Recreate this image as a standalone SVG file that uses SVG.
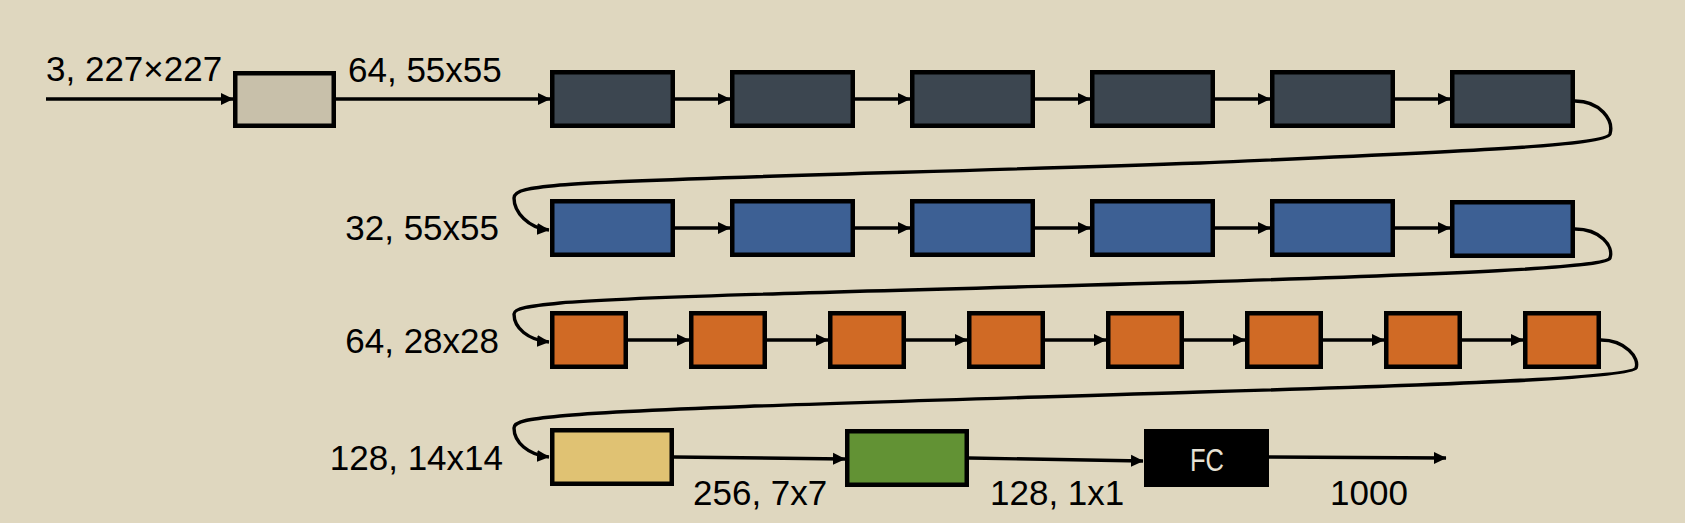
<svg xmlns="http://www.w3.org/2000/svg" width="1685" height="523" viewBox="0 0 1685 523">
<defs>
<marker id="ah" markerWidth="13" markerHeight="13" refX="12" refY="6.5" orient="auto" markerUnits="userSpaceOnUse">
<path d="M0,0.5 L12.5,6.5 L0,12.5 Z" fill="#000"/>
</marker>
<style>
.lbl{font-family:"Liberation Sans",Arial,sans-serif;font-size:35px;fill:#000}
.box{stroke:#000;stroke-width:4.5}
.dk{fill:#3C4650}.bl{fill:#3D6094}.or{fill:#D06A25}
.ln{fill:none;stroke:#000;stroke-width:3.4;marker-end:url(#ah)}
</style>
</defs>
<rect width="1685" height="523" fill="#DFD7BF"/>
<g id="labels">
<text class="lbl" x="46" y="81">3, 227×227</text>
<text class="lbl" x="348" y="82">64, 55x55</text>
<text class="lbl" x="499" y="240" text-anchor="end">32, 55x55</text>
<text class="lbl" x="499" y="353" text-anchor="end">64, 28x28</text>
<text class="lbl" x="503" y="470" text-anchor="end">128, 14x14</text>
<text class="lbl" x="693" y="505">256, 7x7</text>
<text class="lbl" x="990" y="505">128, 1x1</text>
<text class="lbl" x="1330" y="505">1000</text>
</g>
<g id="input"><rect class="box" x="235.25" y="73.25" width="98.5" height="52.5" fill="#C8C0AA"/></g>
<g id="row1">
<rect id="d1" class="box dk" x="552.25" y="72.25" width="120.5" height="53.5"/>
<rect id="d2" class="box dk" x="732.25" y="72.25" width="120.5" height="53.5"/>
<rect id="d3" class="box dk" x="912.25" y="72.25" width="120.5" height="53.5"/>
<rect id="d4" class="box dk" x="1092.25" y="72.25" width="120.5" height="53.5"/>
<rect id="d5" class="box dk" x="1272.25" y="72.25" width="120.5" height="53.5"/>
<rect id="d6" class="box dk" x="1452.25" y="72.25" width="120.5" height="53.5"/>
</g>
<g id="row2">
<rect id="b1" class="box bl" x="552.25" y="201.25" width="120.5" height="53.5"/>
<rect id="b2" class="box bl" x="732.25" y="201.25" width="120.5" height="53.5"/>
<rect id="b3" class="box bl" x="912.25" y="201.25" width="120.5" height="53.5"/>
<rect id="b4" class="box bl" x="1092.25" y="201.25" width="120.5" height="53.5"/>
<rect id="b5" class="box bl" x="1272.25" y="201.25" width="120.5" height="53.5"/>
<rect id="b6" class="box bl" x="1452.25" y="202.25" width="120.5" height="53.5"/>
</g>
<g id="row3">
<rect id="o1" class="box or" x="552.25" y="313.25" width="73.5" height="53.5"/>
<rect id="o2" class="box or" x="691.25" y="313.25" width="73.5" height="53.5"/>
<rect id="o3" class="box or" x="830.25" y="313.25" width="73.5" height="53.5"/>
<rect id="o4" class="box or" x="969.25" y="313.25" width="73.5" height="53.5"/>
<rect id="o5" class="box or" x="1108.25" y="313.25" width="73.5" height="53.5"/>
<rect id="o6" class="box or" x="1247.25" y="313.25" width="73.5" height="53.5"/>
<rect id="o7" class="box or" x="1386.25" y="313.25" width="73.5" height="53.5"/>
<rect id="o8" class="box or" x="1525.25" y="313.25" width="73.5" height="53.5"/>
</g>
<g id="row4">
<rect id="yellow" class="box" x="552.25" y="430.25" width="119.5" height="53.5" fill="#E0C273"/>
<rect id="green" class="box" x="847.25" y="431.25" width="119.5" height="53.5" fill="#629234"/>
<g id="fc">
<rect x="1144" y="429" width="125" height="58" fill="#000"/>
<text x="1207" y="471" text-anchor="middle" font-family="Liberation Sans, Arial, sans-serif" font-size="31" fill="#E6E1D4" textLength="34" lengthAdjust="spacingAndGlyphs">FC</text>
</g>
</g>
<g id="connectors">
<line class="ln" x1="46" y1="99" x2="233" y2="99"/>
<line class="ln" x1="336" y1="99" x2="550" y2="99"/>
<line class="ln" x1="675" y1="99" x2="730" y2="99"/>
<line class="ln" x1="855" y1="99" x2="910" y2="99"/>
<line class="ln" x1="1035" y1="99" x2="1090" y2="99"/>
<line class="ln" x1="1215" y1="99" x2="1270" y2="99"/>
<line class="ln" x1="1395" y1="99" x2="1450" y2="99"/>
<line class="ln" x1="675" y1="228" x2="730" y2="228"/>
<line class="ln" x1="855" y1="228" x2="910" y2="228"/>
<line class="ln" x1="1035" y1="228" x2="1090" y2="228"/>
<line class="ln" x1="1215" y1="228" x2="1270" y2="228"/>
<line class="ln" x1="1395" y1="228" x2="1450" y2="228"/>
<line class="ln" x1="628" y1="340" x2="689" y2="340"/>
<line class="ln" x1="767" y1="340" x2="828" y2="340"/>
<line class="ln" x1="906" y1="340" x2="967" y2="340"/>
<line class="ln" x1="1045" y1="340" x2="1106" y2="340"/>
<line class="ln" x1="1184" y1="340" x2="1245" y2="340"/>
<line class="ln" x1="1323" y1="340" x2="1384" y2="340"/>
<line class="ln" x1="1462" y1="340" x2="1523" y2="340"/>
<path class="ln" d="M1575,101 C1600,101 1614,120 1610,134 C1606,146 1450,152 1200,163 C950,172 640,178 560,185 C530,188 514,190 514,198 C514,212 528,228 549,230"/>
<path class="ln" d="M1575,229 C1600,229 1614,246 1610,258 C1606,268 1450,274 1200,282 C950,289 640,296 560,303 C530,306 514,308 514,314 C514,328 528,340 549,342"/>
<path class="ln" d="M1601,340 C1625,340 1640,358 1636,368 C1630,378 1450,385 1200,392 C950,400 640,408 560,416 C530,419 514,421 514,428 C514,442 528,455 549,457"/>
<line class="ln" x1="674" y1="457" x2="845" y2="459"/>
<line class="ln" x1="969" y1="458" x2="1143" y2="461"/>
<line class="ln" x1="1269" y1="457" x2="1446" y2="458"/>
</g>
</svg>
